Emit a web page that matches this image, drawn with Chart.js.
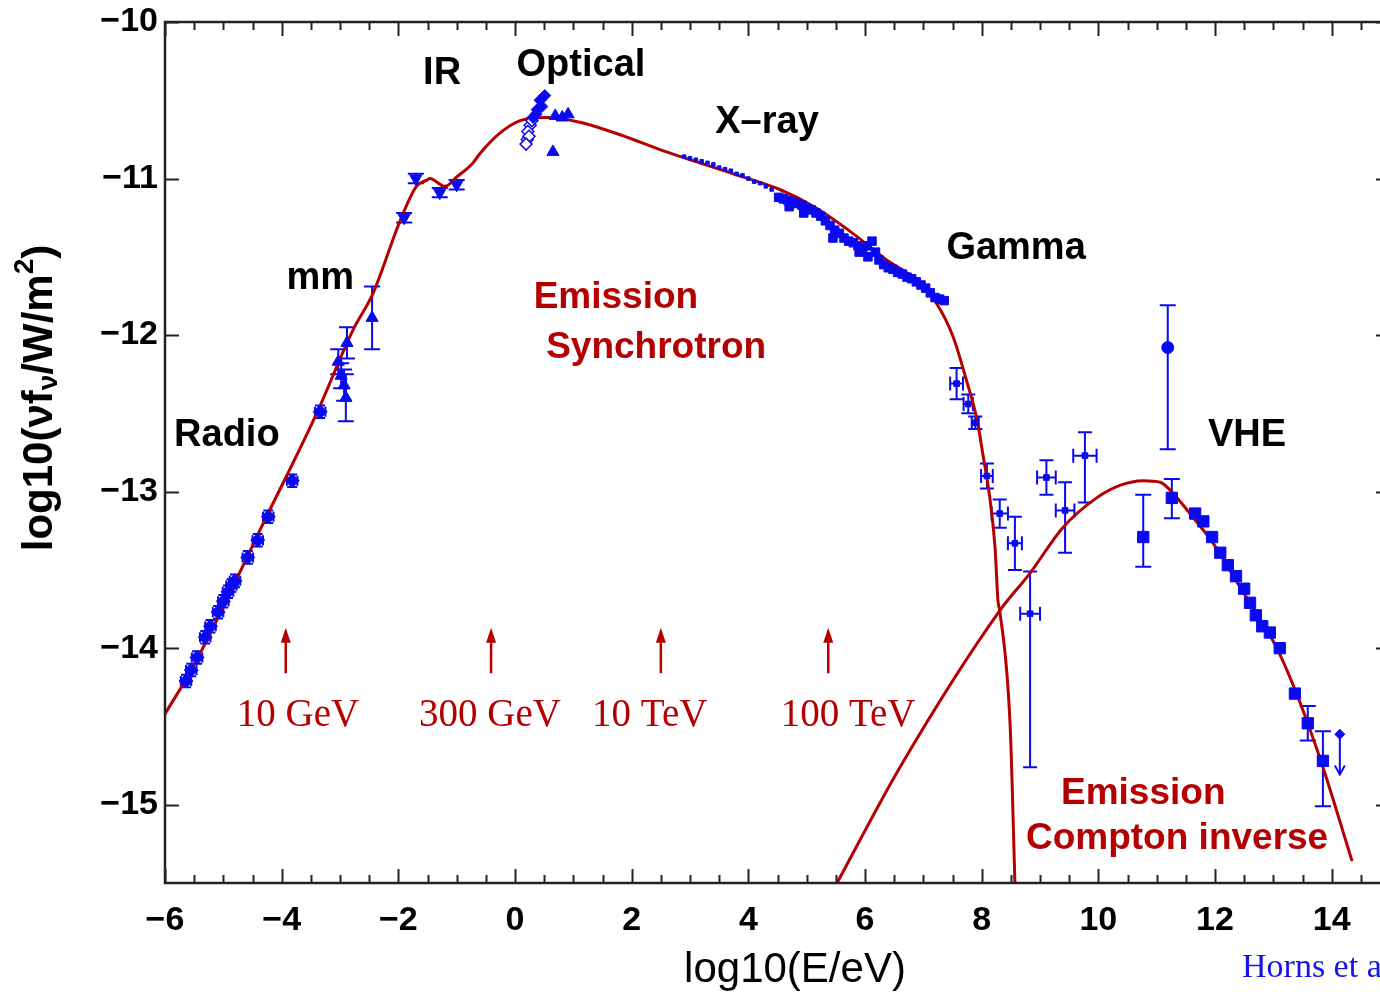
<!DOCTYPE html>
<html>
<head>
<meta charset="utf-8">
<script src="https://cdn.jsdelivr.net/npm/chart.js@4.4.1/dist/chart.umd.min.js"></script>
<style>
html, body { margin: 0; padding: 0; overflow: hidden; background: #fff; }
#wrap { width: 1400px; height: 995px; }
</style>
</head>
<body>
<div id="wrap"><canvas id="sed" width="1400" height="995"></canvas></div>
<script>
// x = log10(E/eV), y = log10(nu F_nu / W m^-2)

// synchrotron model curve
const syncX = [-6.00, -5.52, -4.26, -3.40, -2.78, -2.43, -1.97, -1.69, -1.51, -1.46, -1.20, -1.00, -0.72, -0.60, -0.26, 0.09, 0.54, 1.11, 1.80, 2.60, 3.74, 4.54, 5.17, 5.79, 6.37, 6.89, 7.23, 7.51, 7.74, 7.92, 8.02, 8.14, 8.23, 8.28, 8.31, 8.49, 8.57];
const syncY = [-14.42, -14.12, -13.16, -12.50, -11.97, -11.73, -11.27, -11.05, -11.01, -11.00, -11.05, -10.99, -10.90, -10.84, -10.71, -10.63, -10.61, -10.64, -10.72, -10.83, -10.97, -11.07, -11.19, -11.35, -11.52, -11.65, -11.80, -12.01, -12.29, -12.54, -12.76, -13.04, -13.36, -13.70, -13.76, -14.51, -15.50];

// inverse Compton model curve
const compX = [5.52, 6.60, 8.31, 8.83, 9.39, 9.97, 10.37, 10.77, 11.06, 11.28, 11.57, 11.97, 12.43, 13.06, 13.46, 13.85, 14.35];
const compY = [-15.50, -14.76, -13.76, -13.52, -13.23, -13.04, -12.96, -12.93, -12.94, -13.01, -13.14, -13.33, -13.61, -14.00, -14.35, -14.76, -15.36];

// radio
const radioX = [-5.64, -5.55, -5.45, -5.31, -5.22, -5.09, -5.00, -4.92, -4.86, -4.80, -4.58, -4.41, -4.23, -3.82, -3.34];
const radioY = [-14.21, -14.14, -14.06, -13.93, -13.86, -13.77, -13.70, -13.64, -13.60, -13.57, -13.42, -13.31, -13.16, -12.93, -12.49];

// mm
const mmX = [-3.03, -2.98, -2.93, -2.90, -2.88, -2.45];
const mmY = [-12.17, -12.26, -12.32, -12.40, -12.05, -11.89];
const mmErr = [0.08, 0.08, 0.10, 0.15, 0.10, 0.20];

// infrared
const irX = [-1.90, -1.70, -1.29, -1.00];
const irY = [-11.25, -11.00, -11.09, -11.04];

// optical
const optX = [0.43, 0.51, 0.38, 0.31, 0.46, 0.36];
const optY = [-10.50, -10.47, -10.56, -10.61, -10.54, -10.59];
const optOpenX = [0.26, 0.22, 0.21, 0.29, 0.24, 0.19];
const optOpenY = [-10.66, -10.70, -10.75, -10.63, -10.73, -10.78];
const optTriX = [0.69, 0.81, 0.91, 0.65];
const optTriY = [-10.60, -10.61, -10.59, -10.83];

// X-ray, soft part (thin trace along the curve)
const xsoftX = [2.90, 3.00, 3.10, 3.20, 3.30, 3.40, 3.50, 3.60, 3.70, 3.80, 3.90, 4.00, 4.10, 4.20, 4.30, 4.40];
const xsoftY = [-10.86, -10.87, -10.88, -10.89, -10.90, -10.91, -10.93, -10.94, -10.95, -10.97, -10.98, -11.00, -11.02, -11.03, -11.05, -11.07];
// X-ray, hard part
const xrayX = [4.52, 4.60, 4.68, 4.70, 4.76, 4.84, 4.92, 4.95, 5.00, 5.08, 5.16, 5.24, 5.32, 5.40, 5.45, 5.48, 5.56, 5.64, 5.72, 5.80, 5.88, 5.90, 5.96, 6.04, 6.05, 6.12, 6.18, 6.24, 6.32, 6.40, 6.48, 6.56, 6.64, 6.72, 6.80, 6.88, 6.96, 7.04, 7.12, 7.20, 7.28, 7.36];
const xrayY = [-11.12, -11.13, -11.14, -11.18, -11.15, -11.16, -11.17, -11.22, -11.19, -11.20, -11.22, -11.24, -11.27, -11.30, -11.38, -11.33, -11.35, -11.38, -11.40, -11.41, -11.43, -11.47, -11.45, -11.43, -11.50, -11.40, -11.47, -11.52, -11.55, -11.57, -11.58, -11.60, -11.61, -11.63, -11.64, -11.66, -11.68, -11.70, -11.73, -11.76, -11.77, -11.78];

// gamma
const gamX = [7.57, 7.77, 7.89, 8.09, 8.31, 8.57, 8.83, 9.11, 9.43, 9.77];
const gamY = [-12.31, -12.44, -12.56, -12.90, -13.14, -13.33, -13.78, -12.91, -13.12, -12.77];
const gamUp = [0.10, 0.06, 0.04, 0.08, 0.09, 0.17, 0.27, 0.11, 0.18, 0.15];
const gamDown = [0.10, 0.06, 0.04, 0.08, 0.09, 0.17, 0.98, 0.11, 0.27, 0.30];
const gamXErr = [0.11, 0.08, 0.06, 0.10, 0.14, 0.12, 0.17, 0.16, 0.16, 0.20];

// very high energy
const vheX = [10.77, 11.26, 11.66, 11.80, 11.95, 12.09, 12.22, 12.36, 12.50, 12.60, 12.70, 12.81, 12.94, 13.11, 13.37, 13.59, 13.85];
const vheY = [-13.29, -13.04, -13.14, -13.19, -13.29, -13.39, -13.47, -13.54, -13.62, -13.71, -13.79, -13.86, -13.90, -14.00, -14.29, -14.48, -14.72];
const vheUp = [0.27, 0.12, 0, 0, 0, 0, 0, 0, 0, 0, 0, 0, 0, 0, 0, 0.11, 0.19];
const vheDown = [0.19, 0.13, 0, 0, 0, 0, 0, 0, 0, 0, 0, 0, 0, 0, 0, 0.11, 0.29];
const circX = [11.19];
const circY = [-12.08];
const circUp = [0.27];
const circDown = [0.65];
const limX = [14.14];
const limY = [-14.55];
const limTo = [-14.80];

// annotations
const bandText = ['Radio', 'mm', 'IR', 'Optical', 'X\u2013ray', 'Gamma', 'VHE'];
const bandX = [-4.94, -3.34, -1.25, 1.13, 4.32, 8.59, 12.55];
const bandY = [-12.64, -11.64, -10.33, -10.28, -10.64, -11.45, -12.64];
const procText = ['Emission', 'Synchrotron', 'Emission', 'Compton inverse'];
const procX = [1.73, 2.42, 10.77, 11.35];
const procY = [-11.76, -12.08, -14.93, -15.22];
const arrowX = [-3.93, -0.41, 2.50, 5.37];
const arrowText = ['10 GeV', '300 GeV', '10 TeV', '100 TeV'];
const arrowTextX = [-3.72, -0.43, 2.31, 5.71];

const BLUE = '#0a0af0';
const RED = '#b40000';
const SANS = '"Liberation Sans", Arial, Helvetica, sans-serif';
const SERIF = '"Liberation Serif", "Times New Roman", serif';

const pts = (xs, ys) => xs.map((v, i) => ({ x: v, y: ys[i] }));

function minus(v) {
    return v < 0 ? '\u2212' + Math.abs(v) : String(v);
}

const errorBars = {
    id: 'errorBars',
    beforeDatasetsDraw(chart) {
        const { ctx, chartArea: a, scales: { x, y } } = chart;
        ctx.save();
        ctx.beginPath();
        ctx.rect(a.left, a.top, a.right - a.left, a.bottom - a.top);
        ctx.clip();
        chart.data.datasets.forEach(ds => {
            if (!ds.err) return;
            const e = ds.err;
            ctx.strokeStyle = BLUE;
            ctx.lineWidth = 2;
            ds.data.forEach((p, i) => {
                const px = x.getPixelForValue(p.x);
                const py = y.getPixelForValue(p.y);
                const up = e.up ? e.up[i] : 0;
                const dn = e.down ? e.down[i] : up;
                const xe = e.xe ? e.xe[i] : 0;
                const cap = e.cap || 7;
                ctx.beginPath();
                if (up || dn) {
                    const y1 = y.getPixelForValue(p.y + up);
                    const y2 = y.getPixelForValue(p.y - dn);
                    ctx.moveTo(px, y1); ctx.lineTo(px, y2);
                    ctx.moveTo(px - cap, y1); ctx.lineTo(px + cap, y1);
                    ctx.moveTo(px - cap, y2); ctx.lineTo(px + cap, y2);
                }
                if (xe) {
                    const x1 = x.getPixelForValue(p.x - xe);
                    const x2 = x.getPixelForValue(p.x + xe);
                    ctx.moveTo(x1, py); ctx.lineTo(x2, py);
                    ctx.moveTo(x1, py - cap); ctx.lineTo(x1, py + cap);
                    ctx.moveTo(x2, py - cap); ctx.lineTo(x2, py + cap);
                }
                ctx.stroke();
                if (e.to) {
                    const yt = y.getPixelForValue(e.to[i]);
                    ctx.beginPath();
                    ctx.moveTo(px, py); ctx.lineTo(px, yt);
                    ctx.stroke();
                    ctx.beginPath();
                    ctx.moveTo(px - 5, yt - 8); ctx.lineTo(px, yt + 1); ctx.lineTo(px + 5, yt - 8);
                    ctx.stroke();
                }
            });
        });
        ctx.restore();
    }
};

const decor = {
    id: 'decor',
    afterDatasetsDraw(chart) {
        const { ctx, chartArea: a, scales: { x, y } } = chart;
        ctx.save();

        // frame with inward ticks
        ctx.strokeStyle = '#222';
        ctx.lineWidth = 2;
        ctx.beginPath();
        for (let v = -6; v <= 15.001; v += 0.5) {
            const px = Math.round(x.getPixelForValue(v)) + 0.5;
            const len = Math.abs(v % 2) < 0.01 ? 14 : 8;
            ctx.moveTo(px, a.bottom); ctx.lineTo(px, a.bottom - len);
            ctx.moveTo(px, a.top); ctx.lineTo(px, a.top + len);
        }
        for (let v = -15; v <= -10; v += 1) {
            const py = Math.round(y.getPixelForValue(v)) + 0.5;
            ctx.moveTo(a.left, py); ctx.lineTo(a.left + 14, py);
            ctx.moveTo(a.right, py); ctx.lineTo(a.right - 14, py);
        }
        ctx.stroke();
        ctx.lineWidth = 2.5;
        ctx.strokeRect(a.left, a.top, a.right - a.left, a.bottom - a.top);

        // band labels
        ctx.textAlign = 'center';
        ctx.textBaseline = 'middle';
        ctx.fillStyle = '#000';
        ctx.font = 'bold 38px ' + SANS;
        bandText.forEach((t, i) => ctx.fillText(t, x.getPixelForValue(bandX[i]), y.getPixelForValue(bandY[i])));

        ctx.fillStyle = RED;
        ctx.font = 'bold 37px ' + SANS;
        procText.forEach((t, i) => ctx.fillText(t, x.getPixelForValue(procX[i]), y.getPixelForValue(procY[i])));

        // energy arrows
        ctx.strokeStyle = RED;
        ctx.lineWidth = 2.5;
        ctx.font = '39px ' + SERIF;
        arrowX.forEach((v, i) => {
            const px = x.getPixelForValue(v);
            const top = y.getPixelForValue(-13.87);
            const bot = y.getPixelForValue(-14.16);
            ctx.beginPath();
            ctx.moveTo(px, top + 10); ctx.lineTo(px, bot);
            ctx.stroke();
            ctx.beginPath();
            ctx.moveTo(px, top); ctx.lineTo(px - 5, top + 15); ctx.lineTo(px + 5, top + 15);
            ctx.closePath();
            ctx.fill();
            ctx.fillText(arrowText[i], x.getPixelForValue(arrowTextX[i]), y.getPixelForValue(-14.43));
        });

        // axis titles
        ctx.fillStyle = '#000';
        ctx.font = '42px ' + SANS;
        ctx.fillText('log10(E/eV)', 795, 970);

        ctx.save();
        ctx.translate(40, 398);
        ctx.rotate(-Math.PI / 2);
        const big = 'bold 42px ' + SANS;
        const small = 'bold 28px ' + SANS;
        const parts = [['log10(\u03bdf', big, 0], ['\u03bd', small, 9], ['/W/m', big, 0], ['2', small, -15], [')', big, 0]];
        let w = 0;
        parts.forEach(p => { ctx.font = p[1]; w += ctx.measureText(p[0]).width; });
        let cx = -w / 2;
        ctx.textAlign = 'left';
        parts.forEach(p => {
            ctx.font = p[1];
            ctx.fillText(p[0], cx, p[2]);
            cx += ctx.measureText(p[0]).width;
        });
        ctx.restore();

        // credit
        ctx.fillStyle = '#1515e6';
        ctx.textAlign = 'left';
        ctx.font = '34px ' + SERIF;
        ctx.fillText('Horns et al.', 1242, 968);

        ctx.restore();
    }
};

new Chart(document.getElementById('sed'), {
    type: 'scatter',
    data: {
        datasets: [
            { label: 'Radio', data: pts(radioX, radioY), pointStyle: 'rectRot', pointRadius: 7,
              backgroundColor: BLUE, borderColor: BLUE, err: { up: radioX.map(() => 0.04), xe: radioX.map(() => 0.09), cap: 5 } },
            { label: 'mm', data: pts(mmX, mmY), pointStyle: 'triangle', pointRadius: 7,
              backgroundColor: BLUE, borderColor: BLUE, err: { up: mmErr, cap: 8 } },
            { label: 'IR', data: pts(irX, irY), pointStyle: 'triangle', rotation: 180, pointRadius: 7,
              backgroundColor: BLUE, borderColor: BLUE, err: { up: irX.map(() => 0.03), cap: 8 } },
            { label: 'Optical', data: pts(optX, optY), pointStyle: 'rectRot', pointRadius: 6,
              backgroundColor: BLUE, borderColor: BLUE },
            { label: 'Optical open', data: pts(optOpenX, optOpenY), pointStyle: 'rectRot', pointRadius: 6,
              backgroundColor: '#fff', borderColor: BLUE, borderWidth: 1.5 },
            { label: 'Optical tri', data: pts(optTriX, optTriY), pointStyle: 'triangle', pointRadius: 7,
              backgroundColor: BLUE, borderColor: BLUE },
            { label: 'X-ray soft', data: pts(xsoftX, xsoftY), pointStyle: 'rect', pointRadius: 2.5,
              backgroundColor: BLUE, borderColor: BLUE },
            { label: 'X-ray', data: pts(xrayX, xrayY), pointStyle: 'rect', pointRadius: 6,
              backgroundColor: BLUE, borderColor: BLUE },
            { label: 'Gamma', data: pts(gamX, gamY), pointStyle: 'rect', pointRadius: 4,
              backgroundColor: BLUE, borderColor: BLUE, err: { up: gamUp, down: gamDown, xe: gamXErr, cap: 7 } },
            { label: 'VHE', data: pts(vheX, vheY), pointStyle: 'rect', pointRadius: 8,
              backgroundColor: BLUE, borderColor: BLUE, err: { up: vheUp, down: vheDown, cap: 8 } },
            { label: 'VHE circle', data: pts(circX, circY), pointStyle: 'circle', pointRadius: 6,
              backgroundColor: BLUE, borderColor: BLUE, err: { up: circUp, down: circDown, cap: 8 } },
            { label: 'Upper limit', data: pts(limX, limY), pointStyle: 'rectRot', pointRadius: 5,
              backgroundColor: BLUE, borderColor: BLUE, err: { to: limTo } },
            { label: 'Synchrotron', type: 'line', data: pts(syncX, syncY), order: 10,
              borderColor: RED, borderWidth: 3, pointRadius: 0, cubicInterpolationMode: 'monotone', fill: false },
            { label: 'Compton', type: 'line', data: pts(compX, compY), order: 10,
              borderColor: RED, borderWidth: 3, pointRadius: 0, cubicInterpolationMode: 'monotone', fill: false }
        ]
    },
    options: {
        responsive: false,
        animation: false,
        layout: { padding: { top: 22, right: 10, left: 0, bottom: 0 } },
        plugins: {
            legend: { display: false },
            tooltip: { enabled: false }
        },
        scales: {
            x: {
                type: 'linear',
                min: -6,
                max: 15,
                grid: { display: false, drawTicks: false },
                border: { display: false },
                ticks: {
                    stepSize: 2,
                    includeBounds: false,
                    maxRotation: 0,
                    padding: 17,
                    color: '#000',
                    font: { family: SANS, size: 34, weight: 'bold' },
                    callback: minus
                },
                afterFit: s => { s.height = 112; s.paddingLeft = 0; s.paddingRight = 0; }
            },
            y: {
                type: 'linear',
                min: -15.5,
                max: -10,
                grid: { display: false, drawTicks: false },
                border: { display: false },
                ticks: {
                    stepSize: 1,
                    includeBounds: false,
                    padding: 7,
                    color: '#000',
                    font: { family: SANS, size: 34, weight: 'bold' },
                    callback: minus
                },
                afterFit: s => { s.width = 165; s.paddingTop = 0; s.paddingBottom = 0; }
            }
        }
    },
    plugins: [errorBars, decor]
});
</script>
</body>
</html>
